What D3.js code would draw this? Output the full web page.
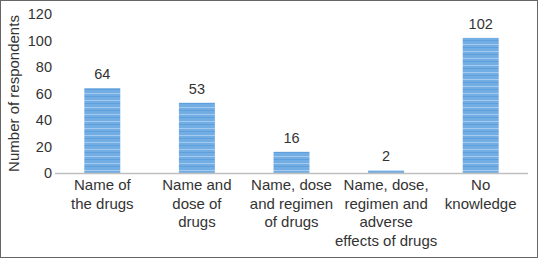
<!DOCTYPE html>
<html>
<head>
  <script src="https://d3js.org/d3.v7.min.js"></script>
  <style>
    body { margin: 0; background: #fff; }
    text { font-family: "Liberation Sans", Arial, sans-serif; fill: #333; }
  </style>
</head>
<body>
<svg width="538" height="258"></svg>
<script>
  // chart data
  const categories = ["Name of the drugs", "Name and dose of drugs", "Name, dose and regimen of drugs",
    "Name, dose, regimen and adverse effects of drugs", "No knowledge"];
  const labelLines = [
    ["Name of", "the drugs"],
    ["Name and", "dose of", "drugs"],
    ["Name, dose", "and regimen", "of drugs"],
    ["Name, dose,", "regimen and", "adverse", "effects of drugs"],
    ["No", "knowledge"]
  ];
  const values = [64, 53, 16, 2, 102];
  const yTicks = [0, 20, 40, 60, 80, 100, 120];

  const margin = {top: 14, right: 10, bottom: 85, left: 55},
    width = 528 - margin.left,
    height = 173 - margin.top;

  const svg = d3.select("svg");

  // outer frame
  svg.append("rect")
    .attr("x", 0.5).attr("y", 0.5)
    .attr("width", 537).attr("height", 257)
    .attr("fill", "none").attr("stroke", "#666");

  // striped fill like the original
  const defs = svg.append("defs");
  const pat = defs.append("pattern")
    .attr("id", "stripes")
    .attr("patternUnits", "userSpaceOnUse")
    .attr("width", 10).attr("height", 7);
  pat.append("rect").attr("width", 10).attr("height", 7).attr("fill", "#72ade3");
  pat.append("rect").attr("y", 2).attr("width", 10).attr("height", 1).attr("fill", "#a4cbef");
  pat.append("rect").attr("y", 5).attr("width", 10).attr("height", 1).attr("fill", "#5e9fdc");

  const g = svg.append("g")
    .attr("transform", "translate(" + margin.left + "," + margin.top + ")");

  const x = d3.scaleBand()
    .domain(categories)
    .range([0, width])
    .paddingInner(0.62)
    .paddingOuter(0.31);

  const y = d3.scaleLinear()
    .domain([0, 120])
    .range([height, 0]);

  // Y axis labels
  g.append("g")
    .call(d3.axisLeft(y).tickValues(yTicks).tickSize(0).tickPadding(3))
    .call(a => a.select(".domain").remove())
    .selectAll("text")
      .style("font-size", "14.5px")
      .attr("fill", "#333");

  // bars
  g.selectAll(".bar")
    .data(values)
    .join("rect")
      .attr("class", "bar")
      .attr("x", (d, i) => x(categories[i]))
      .attr("y", d => y(d))
      .attr("width", x.bandwidth())
      .attr("height", d => height - y(d))
      .attr("fill", "url(#stripes)");

  // baseline
  g.append("line")
    .attr("x1", 0).attr("x2", width)
    .attr("y1", height + 0.5).attr("y2", height + 0.5)
    .attr("stroke", "#bfbfbf").attr("stroke-width", 1.5);

  // value labels
  g.selectAll(".val")
    .data(values)
    .join("text")
      .attr("class", "val")
      .attr("x", (d, i) => x(categories[i]) + x.bandwidth() / 2)
      .attr("y", d => y(d) - 9)
      .attr("text-anchor", "middle")
      .style("font-size", "14.5px")
      .text(d => d);

  // category labels
  const cat = g.selectAll(".cat")
    .data(labelLines)
    .join("text")
      .attr("class", "cat")
      .attr("text-anchor", "middle")
      .style("font-size", "15px")
      .attr("transform", (d, i) => `translate(${x(categories[i]) + x.bandwidth() / 2},${height + 17})`);
  cat.selectAll("tspan")
    .data(d => d)
    .join("tspan")
      .attr("x", 0)
      .attr("y", (d, i) => i * 18.5)
      .text(d => d);

  // y title
  svg.append("text")
    .attr("transform", "translate(18.5," + (margin.top + height / 2) + ") rotate(-90)")
    .attr("text-anchor", "middle")
    .style("font-size", "15px")
    .text("Number of respondents");
</script>
</body>
</html>
